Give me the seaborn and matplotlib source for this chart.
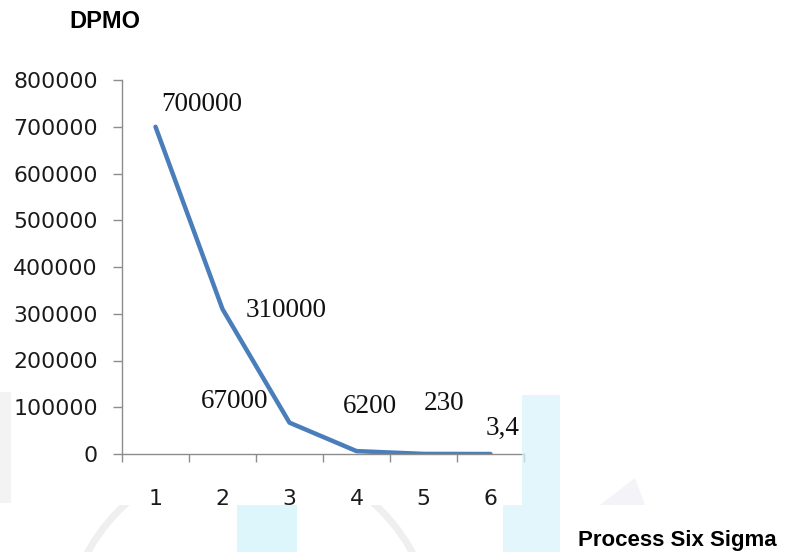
import matplotlib
matplotlib.use("Agg")
import matplotlib.pyplot as plt
from matplotlib.patches import Rectangle, Polygon, Arc
import seaborn as sns

# Sigma level vs. defects per million opportunities
sigma_levels = [1, 2, 3, 4, 5, 6]
dpmo = [700000, 310000, 67000, 6200, 230, 3.4]
y_ticks = [0, 100000, 200000, 300000, 400000, 500000, 600000, 700000, 800000]
y_title = "DPMO"
x_title = "Process Six Sigma"

# label placement (pixels, relative to each point)
label_offsets = [(46, 22), (64, -1), (-55, 21), (13, 45), (21, 50), (12, 26)]

W, H = 798, 552
sns.set_theme(style="white")
plt.rcParams["font.family"] = ["DejaVu Sans"]

fig = plt.figure(figsize=(W / 100, H / 100), dpi=100)
fig.patch.set_facecolor("white")


def fx(px):
    return px / W


def fy(py):
    return 1 - py / H


ax = fig.add_axes([fx(122), fy(454), fx(524) - fx(122), fy(80) - fy(454)])
ax.set_facecolor("none")

sns.lineplot(x=sigma_levels, y=dpmo, ax=ax, color="#4a7ebb", linewidth=3.2,
             solid_capstyle="round", solid_joinstyle="round")

ax.set_xlim(0.5, 6.5)
ax.set_ylim(0, 800000)

# value labels
for xv, yv, (dx, dy) in zip(sigma_levels, dpmo, label_offsets):
    txt = f"{yv:g}".replace(".", ",")
    ax.annotate(txt, (xv, yv), xytext=(dx, dy), textcoords="offset pixels",
                ha="center", va="center", fontsize=19.5,
                family="Liberation Serif", color="#111111")

# axes styling
for side in ("top", "right"):
    ax.spines[side].set_visible(False)
for side in ("left", "bottom"):
    ax.spines[side].set_color("#8c8c8c")
    ax.spines[side].set_linewidth(1.0)

ax.set_yticks(y_ticks)
ax.set_yticklabels([str(v) for v in y_ticks])
ax.tick_params(axis="y", which="major", direction="out", length=6.5, width=1,
               color="#8c8c8c", pad=11, labelsize=15.8, labelcolor="#1a1a1a", left=True)

ax.set_xticks(sigma_levels)
ax.set_xticklabels([str(v) for v in sigma_levels])
ax.set_xticks([v + 0.5 for v in [0] + sigma_levels], minor=True)
ax.tick_params(axis="x", which="major", length=0, pad=25, labelsize=15.8,
               labelcolor="#1a1a1a")
ax.tick_params(axis="x", which="minor", direction="out", length=6, width=1,
               color="#8c8c8c", bottom=True)
ax.set_xlabel("")
ax.set_ylabel("")
ax.grid(False)

# page background below the chart panel, with its faint watermark
fig.patches.append(Rectangle((0, 0), 1, fy(505), transform=fig.transFigure,
                             facecolor="white", edgecolor="none", zorder=1))

wm = []
wm.append(Polygon([(fx(522), fy(395)), (fx(560), fy(395)), (fx(560), fy(552)),
                   (fx(503), fy(552)), (fx(503), fy(505)), (fx(522), fy(505))],
                  closed=True, transform=fig.transFigure,
                  facecolor="#d6f3fb", edgecolor="none", alpha=0.7, zorder=1.2))
wm.append(Rectangle((fx(237), fy(552)), fx(297) - fx(237), fy(505) - fy(552),
                    transform=fig.transFigure, facecolor="#d2f4fa",
                    edgecolor="none", alpha=0.75, zorder=1.2))
wm.append(Rectangle((0, fy(503)), fx(11), fy(392) - fy(503),
                    transform=fig.transFigure, facecolor="#f0f0f0",
                    edgecolor="none", alpha=0.8, zorder=1.2))
wm.append(Polygon([(fx(600), fy(505)), (fx(635), fy(478)), (fx(645), fy(505))],
                  closed=True, transform=fig.transFigure,
                  facecolor="#ececf4", edgecolor="none", alpha=0.6, zorder=1.2))
for p in wm:
    fig.patches.append(p)

ring = Arc((250, H - 641), 370, 370, theta1=95, theta2=175, transform=None,
           edgecolor="#ebebeb", linewidth=5, alpha=0.8, zorder=1.3)
ring2 = Arc((250, H - 641), 370, 370, theta1=5, theta2=85, transform=None,
            edgecolor="#ebebeb", linewidth=5, alpha=0.8, zorder=1.3)
clip = Rectangle((0, 0), W, H - 505, transform=None)
for r in (ring, ring2):
    r.set_clip_path(clip)
    fig.patches.append(r)

fig.text(fx(105), fy(22), y_title, ha="center", va="center", fontsize=17,
         fontweight="bold", family="Liberation Sans", color="black")
fig.text(fx(777), fy(546), x_title, ha="right", va="baseline", fontsize=16,
         fontweight="bold", family="Liberation Sans", color="black", zorder=3)

fig.savefig("out.png", dpi=100, facecolor="white")
